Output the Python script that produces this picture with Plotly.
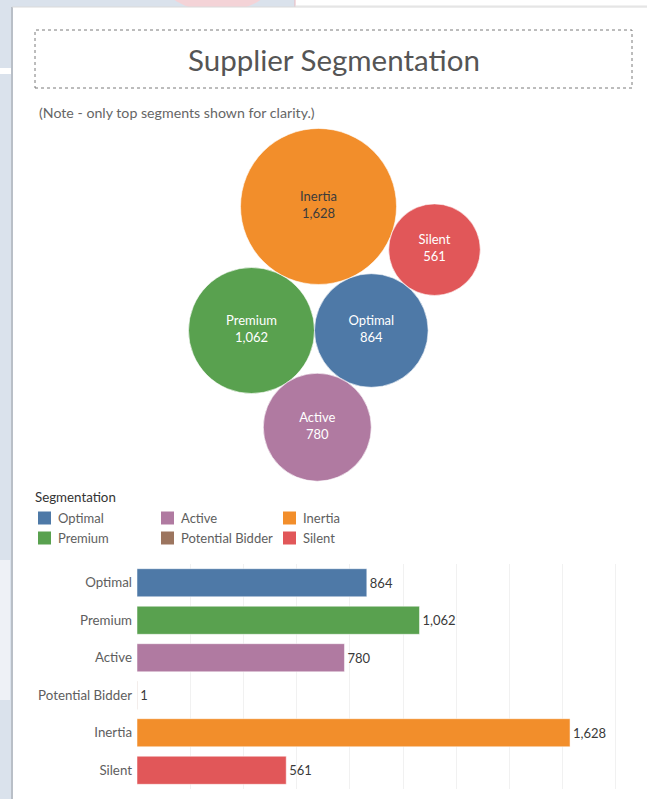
import math
import plotly.graph_objects as go

# ---- data -------------------------------------------------------------
segments = ["Optimal", "Premium", "Active", "Potential Bidder", "Inertia", "Silent"]
supplier_counts = [864, 1062, 780, 1, 1628, 561]
segment_colors = ["#4e79a7", "#59a14f", "#b07aa1", "#9c755f", "#f28e2b", "#e15759"]

# segments drawn in the packed bubble view (top segments only)
bubble_segments = ["Premium", "Optimal", "Inertia", "Active", "Silent"]

# ---- page geometry ----------------------------------------------------
W, H = 647, 799
FONT = "Lato, 'Noto Sans', sans-serif"


def px(x):
    return x / W


def py(y):
    return 1 - y / H


count = dict(zip(segments, supplier_counts))
color = dict(zip(segments, segment_colors))

# ---- packed bubble layout ---------------------------------------------
# radius in data units is sqrt(count); each circle after the first two is
# placed tangent to a pair of circles already on the canvas.
pack_steps = [
    ("Inertia", "Premium", "Optimal", 1),
    ("Active", "Premium", "Optimal", -1),
    ("Silent", "Inertia", "Optimal", 1),
]
radius = {s: math.sqrt(count[s]) for s in bubble_segments}
centre = {}
first, second = bubble_segments[0], bubble_segments[1]
centre[first] = (0.0, 0.0)
centre[second] = (radius[first] + radius[second], 0.0)
for seg, a, b, side in pack_steps:
    (ax, ay), (bx, by) = centre[a], centre[b]
    d = math.hypot(bx - ax, by - ay)
    ux, uy = (bx - ax) / d, (by - ay) / d
    ra = radius[a] + radius[seg]
    rb = radius[b] + radius[seg]
    along = (ra ** 2 - rb ** 2 + d ** 2) / (2 * d)
    h = math.sqrt(max(ra ** 2 - along ** 2, 0))
    centre[seg] = (ax + along * ux - side * h * uy, ay + along * uy + side * h * ux)


def luminance(hex_color):
    vals = []
    for i in (1, 3, 5):
        c = int(hex_color[i:i + 2], 16) / 255
        vals.append(c / 12.92 if c <= 0.03928 else ((c + 0.055) / 1.055) ** 2.4)
    return 0.2126 * vals[0] + 0.7152 * vals[1] + 0.0722 * vals[2]


fig = go.Figure()

# bubble axes: full page, uniform scale so circles stay round
ppu = 1.933            # pixels per data unit
ox, oy = 251.5, 330.5  # page position of the first bubble's centre
fig.update_layout(
    xaxis=dict(domain=[0, 1], range=[-ox / ppu, (W - ox) / ppu], visible=False, fixedrange=True),
    yaxis=dict(domain=[0, 1], range=[-(H - oy) / ppu, oy / ppu], visible=False, fixedrange=True),
)

shapes = []

# page background: dashboard panel with the backdrop peeking out
shapes += [
    dict(type="rect", xref="paper", yref="paper", x0=px(295), x1=1, y0=py(7), y1=1,
         fillcolor="#ffffff", line=dict(width=0), layer="below"),
    dict(type="circle", xref="paper", yref="paper", x0=px(160), x1=px(275), y0=py(12), y1=py(-60),
         fillcolor="#f4d3d7", line=dict(width=0), layer="below"),
    dict(type="line", xref="paper", yref="paper", x0=px(295), x1=px(295), y0=py(7), y1=1,
         line=dict(color="#eab8be", width=1), layer="below"),
    dict(type="line", xref="paper", yref="paper", x0=px(295), x1=1, y0=py(6), y1=py(6),
         line=dict(color="#e2e2e2", width=1), layer="below"),
    dict(type="rect", xref="paper", yref="paper", x0=0, x1=px(10), y0=py(700), y1=py(560),
         fillcolor="#eef1f6", line=dict(width=0), layer="below"),
    dict(type="rect", xref="paper", yref="paper", x0=0, x1=px(12), y0=py(74), y1=py(68),
         fillcolor="#ffffff", line=dict(width=0), layer="below"),
    dict(type="rect", xref="paper", yref="paper", x0=px(12), x1=1, y0=0, y1=py(7),
         fillcolor="#ffffff", line=dict(width=0), layer="below"),
    dict(type="line", xref="paper", yref="paper", x0=px(12), x1=px(12), y0=0, y1=py(7),
         line=dict(color="#b9bfc7", width=2), layer="below"),
    dict(type="line", xref="paper", yref="paper", x0=px(12), x1=1, y0=py(7), y1=py(7),
         line=dict(color="#dadada", width=1), layer="below"),
    # title frame
    dict(type="rect", xref="paper", yref="paper", x0=px(35), x1=px(632), y0=py(88), y1=py(30),
         line=dict(color="#7a7a7a", width=1, dash="dot"), fillcolor="rgba(0,0,0,0)", layer="below"),
]

# bubbles
for seg in bubble_segments:
    cx, cy = centre[seg]
    r = radius[seg]
    shapes.append(dict(type="circle", xref="x", yref="y",
                       x0=cx - r, x1=cx + r, y0=cy - r, y1=cy + r,
                       fillcolor=color[seg], line=dict(color="rgba(255,255,255,0.6)", width=1),
                       layer="below"))

fig.add_trace(go.Scatter(
    x=[centre[s][0] for s in bubble_segments],
    y=[centre[s][1] for s in bubble_segments],
    mode="text",
    text=[f"{s}<br>{count[s]:,}" for s in bubble_segments],
    textposition="middle center",
    textfont=dict(family=FONT, size=13,
                  color=["#3b3b3b" if luminance(color[s]) > 0.33 else "#ffffff"
                         for s in bubble_segments]),
    hoverinfo="skip",
    showlegend=False,
    xaxis="x", yaxis="y",
))

# ---- bar chart --------------------------------------------------------
fig.add_trace(go.Bar(
    x=supplier_counts,
    y=segments,
    orientation="h",
    marker=dict(color=segment_colors, line=dict(color="rgba(255,255,255,0.5)", width=1)),
    width=0.75,
    text=[f"{v:,}" for v in supplier_counts],
    textposition="outside",
    textfont=dict(family=FONT, size=13, color="#3a3a3a"),
    cliponaxis=False,
    hoverinfo="skip",
    showlegend=False,
    xaxis="x2", yaxis="y2",
))

bar_px_per_unit = 0.266
fig.update_layout(
    xaxis2=dict(domain=[px(137), 1], range=[0, (W - 137) / bar_px_per_unit], anchor="y2",
                showgrid=True, gridcolor="#f1f1f1", gridwidth=1, dtick=200, tick0=0,
                zeroline=False, showticklabels=False, showline=False, fixedrange=True),
    yaxis2=dict(domain=[py(789), py(564)], anchor="x2", type="category",
                categoryorder="array", categoryarray=segments, autorange="reversed",
                showgrid=False, zeroline=False, showline=False, ticks="",
                ticklabelstandoff=4,
                tickfont=dict(family=FONT, size=13.3, color="#5e5e5e"), fixedrange=True),
)

# ---- legend (colour key) ----------------------------------------------
annotations = []
legend_cols = [38, 161, 283]
legend_rows = [518, 538]
annotations.append(dict(text="Segmentation", xref="paper", yref="paper", x=px(33), y=py(497),
                        xanchor="left", yanchor="middle", showarrow=False,
                        font=dict(family=FONT, size=13.3, color="#333333")))
for i, seg in enumerate(segments):
    lx = legend_cols[i // 2]
    ly = legend_rows[i % 2]
    shapes.append(dict(type="rect", xref="paper", yref="paper",
                       x0=px(lx), x1=px(lx + 13), y0=py(ly + 6.5), y1=py(ly - 6.5),
                       fillcolor=color[seg], line=dict(width=0)))
    annotations.append(dict(text=seg, xref="paper", yref="paper", x=px(lx + 18), y=py(ly),
                            xanchor="left", yanchor="middle", showarrow=False,
                            font=dict(family=FONT, size=13, color="#5e5e5e")))

# ---- headings ----------------------------------------------------------
annotations.append(dict(text="Supplier Segmentation", xref="paper", yref="paper",
                        x=px(334), y=py(60), xanchor="center", yanchor="middle", showarrow=False,
                        font=dict(family=FONT, size=29.5, color="#555555")))
annotations.append(dict(text="(Note - only top segments shown for clarity.)", xref="paper", yref="paper",
                        x=px(37), y=py(112), xanchor="left", yanchor="middle", showarrow=False,
                        font=dict(family=FONT, size=14.2, color="#666666")))

fig.update_layout(
    width=W, height=H,
    margin=dict(l=0, r=0, t=0, b=0),
    paper_bgcolor="#dae2ec",
    plot_bgcolor="rgba(0,0,0,0)",
    shapes=shapes,
    annotations=annotations,
    showlegend=False,
    font=dict(family=FONT),
)

fig.write_html("out.html", config={"displayModeBar": False})
